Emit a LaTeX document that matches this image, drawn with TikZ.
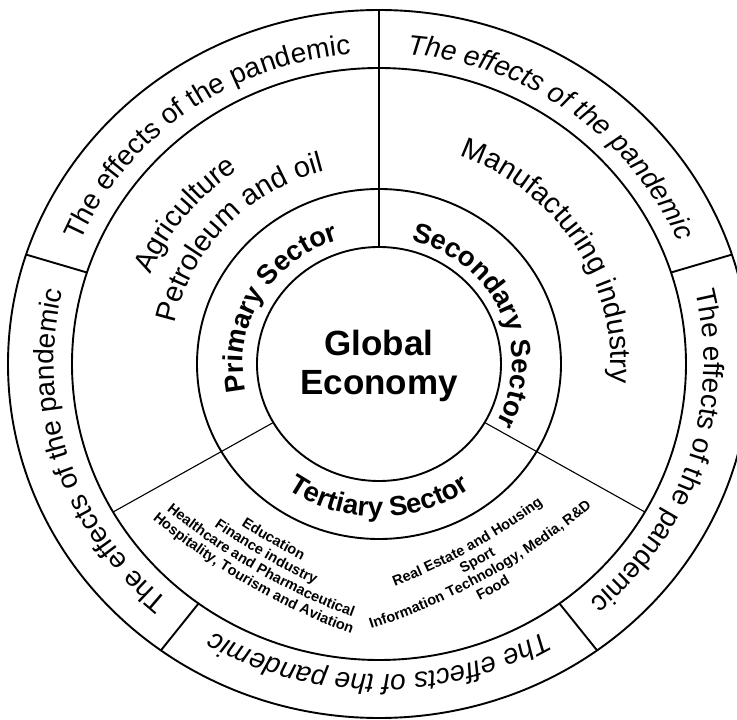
\documentclass[tikz,border=0pt]{standalone}
\usepackage{fontspec}
\setmainfont{Liberation Sans}
\usetikzlibrary{decorations.text}

\newcommand{\bandfont}{\fontsize{28}{30}\selectfont}
\newcommand{\itemfont}{\fontsize{29}{31}\selectfont}
\newcommand{\sectorfont}{\bfseries\fontsize{27.5}{29}\selectfont}
\newcommand{\tertfont}{\bfseries\fontsize{14.5}{16}\selectfont}

\begin{document}
\begin{tikzpicture}[x=1pt, y=1pt,
    ring/.style={line width=1.9pt},
    divider/.style={line width=1.1pt},
    spoke/.style={line width=1.9pt},
    arctext/.style={decorate, decoration={text along path, text align=center, text={#1}}}]

  % Background
  \useasboundingbox[fill=white] (-379,-356) rectangle (358,364);

  % Rings
  \coordinate (c) at (0,0);
  \draw[ring] (c) ellipse [x radius=371pt, y radius=354pt];
  \draw[ring] (c) ellipse [x radius=307pt, y radius=296pt];
  \draw[ring] (c) ellipse [x radius=182pt, y radius=175pt];
  \draw[ring] (c) ellipse [x radius=122pt, y radius=117pt];

  % Sector dividers
  \draw[divider] (90:122pt and 117pt) -- (90:371pt and 354pt);
  \foreach \a in {210, 330}
    \draw[divider] (\a:122pt and 117pt) -- (\a:307pt and 296pt);

  % Band dividers
  \foreach \a in {18, 162, 234, 306}
    \draw[spoke] (\a:307pt and 296pt) -- (\a:371pt and 354pt);

  % Centre
  \node[font=\bfseries\fontsize{35}{39}\selectfont, align=center] (eco) at (0,-2) {Global\\Economy};

  % Band texts
  \foreach \a/\shp in {126/\upshape, 198/\upshape, 270/\itshape, 342/\upshape, 54/\itshape}
    \path[arctext={|\bandfont\shp|The effects of the pandemic}]
      ({\a+35}:325pt and 311pt) arc[start angle=\a+35, end angle=\a-35, x radius=325pt, y radius=311pt];

  % Sector labels
  \path[arctext={|\sectorfont|Primary Sector}]
    (210:136pt and 130pt) arc[start angle=210, end angle=90, x radius=136pt, y radius=130pt];
  \path[arctext={|\sectorfont|Secondary Sector}]
    (84:133pt and 127pt) arc[start angle=84, end angle=-36, x radius=133pt, y radius=127pt];
  \path[arctext={|\sectorfont|Tertiary Sector}]
    (215:158pt and 153pt) arc[start angle=215, end angle=325, x radius=158pt, y radius=153pt];

  % Sector items
  \path[arctext={|\itemfont|Agriculture}]
    (171.5:247pt and 236pt) arc[start angle=171.5, end angle=111.5, x radius=247pt, y radius=236pt];
  \path[arctext={|\itemfont|Petroleum and oil}]
    (187:209pt and 200pt) arc[start angle=187, end angle=87, x radius=209pt, y radius=200pt];
  \path[arctext={|\itemfont|Manufacturing industry}]
    (87:232pt and 222pt) arc[start angle=87, end angle=-23, x radius=232pt, y radius=222pt];

  % Tertiary items, on wide arcs
  \coordinate (lc) at (207.5,367);
  \coordinate (rc) at (-215.5,370);
  \path[shift={(lc)}, arctext={|\tertfont|Education}]
    (220:631pt) arc[start angle=220, end angle=260, radius=631pt];
  \path[shift={(lc)}, arctext={|\tertfont|Finance industry}]
    (220:647pt) arc[start angle=220, end angle=260, radius=647pt];
  \path[shift={(lc)}, arctext={|\tertfont|Healthcare and Pharmaceutical}]
    (220:663pt) arc[start angle=220, end angle=260, radius=663pt];
  \path[shift={(lc)}, arctext={|\tertfont|Hospitality, Tourism and Aviation}]
    (220:679pt) arc[start angle=220, end angle=260, radius=679pt];

  \path[shift={(rc)}, arctext={|\tertfont|Real Estate and Housing}]
    (279:636pt) arc[start angle=279, end angle=319, radius=636pt];
  \path[shift={(rc)}, arctext={|\tertfont|Sport}]
    (279:652pt) arc[start angle=279, end angle=319, radius=652pt];
  \path[shift={(rc)}, arctext={|\tertfont|Information Technology, Media, R{\&}D}]
    (279:668pt) arc[start angle=279, end angle=319, radius=668pt];
  \path[shift={(rc)}, arctext={|\tertfont|Food}]
    (279:684pt) arc[start angle=279, end angle=319, radius=684pt];

\end{tikzpicture}
\end{document}
